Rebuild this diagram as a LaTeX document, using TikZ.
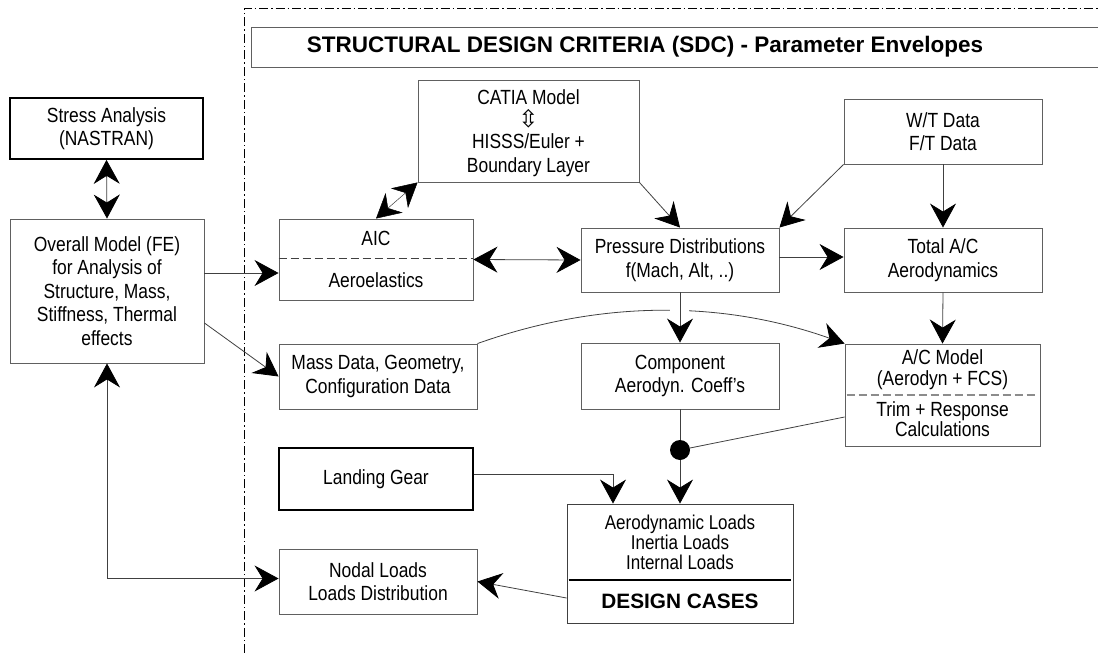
\documentclass[tikz,border=0pt]{standalone}
\usepackage{fontspec}
\setmainfont{Liberation Sans}[FakeStretch=0.85]
\newfontfamily\titlefont{Liberation Sans}
\newfontfamily\symfont{DejaVu Sans}
\usetikzlibrary{arrows.meta,calc}
\definecolor{bordgray}{HTML}{606060}
\definecolor{linegray}{HTML}{404040}
\tikzset{
  box/.style={draw=bordgray, line width=0.9pt, rectangle, inner sep=0pt, align=center,
    font=\fontsize{20.5}{23.5}\selectfont},
  thickbox/.style={box, draw=black, line width=1.7pt},
  txt/.style={inner sep=0pt, align=center, font=\fontsize{20.5}{23.5}\selectfont},
  conn/.style={draw=linegray, line width=0.8pt},
  arr/.style={conn, -{Stealth[length=24pt,width=26pt,inset=8pt,black]}},
  darr/.style={conn, {Stealth[length=24pt,width=26pt,inset=8pt,black]}-{Stealth[length=24pt,width=26pt,inset=8pt,black]}},
  frame/.style={draw=black, line width=0.8pt, dash pattern=on 9pt off 3pt on 1.5pt off 3pt},
}
\begin{document}
\begin{tikzpicture}[x=1pt,y=-1pt]
\useasboundingbox (0,0) rectangle (1098,653);
% dash-dot frame
\coordinate (fb) at (244,653);
\coordinate (fc) at (244,8);
\coordinate (fr) at (1098,8);
\draw[frame] (fb) -- (fc) -- (fr);
% title
\node[box, minimum width=849pt, minimum height=40pt] (titlebox) at (675.5,47) {};
\node[inner sep=0pt, font=\titlefont\bfseries\fontsize{22.5}{24}\selectfont] (title) at (645,47) {STRUCTURAL DESIGN CRITERIA (SDC) - Parameter Envelopes};
% boxes
\node[thickbox, minimum width=193pt, minimum height=61pt] (stress) at (106.5,128.5) {Stress Analysis\\(NASTRAN)};
\node[box, minimum width=194pt, minimum height=144pt] (overall) at (107,291) {Overall Model (FE)\\for Analysis of\\Structure, Mass,\\Stiffness, Thermal\\effects};
\node[box, minimum width=221pt, minimum height=102pt] (catia) at (528.5,131) {};
\node[txt] (catiaA) at (528.5,97) {CATIA Model};
\node[inner sep=0pt, font=\symfont\fontsize{24}{24}\selectfont] (catiaS) at (528.5,119) {⇳};
\node[txt] (catiaB) at (528.5,155) {HISSS/Euler +\\Boundary Layer};
\node[box, minimum width=198pt, minimum height=65pt] (wt) at (943,131.5) {W/T Data\\F/T Data};
\node[box, minimum width=194pt, minimum height=81pt] (aic) at (376,259.5) {};
\node[txt] (aicT) at (376,238) {AIC};
\node[txt] (aicB) at (376,280) {Aeroelastics};
\draw[draw=linegray, line width=0.8pt, dash pattern=on 8pt off 4pt] (aic.west |- 0,258) -- (aic.east |- 0,258);
\node[box, minimum width=198pt, minimum height=64pt] (press) at (680,260) {Pressure Distributions\\f(Mach, Alt, ..)};
\node[box, minimum width=198pt, minimum height=64pt] (total) at (943,260) {Total A/C\\Aerodynamics};
\node[box, minimum width=198pt, minimum height=65pt] (mass) at (378,376.5) {Mass Data, Geometry,\\Configuration Data};
\node[box, minimum width=198pt, minimum height=66pt] (comp) at (680,376) {Component\\Aerodyn. Coeff's};
\node[box, minimum width=195pt, minimum height=102pt] (acm) at (942.5,395) {};
\node[txt, font=\fontsize{20.5}{21}\selectfont] (acmT) at (942.5,370) {A/C Model\\(Aerodyn + FCS)};
\node[txt, font=\fontsize{20.5}{20.5}\selectfont] (acmB) at (942.5,419) {Trim + Response\\Calculations};
\draw[draw=black!45, line width=1.2pt, dash pattern=on 8pt off 4pt] ([xshift=2pt]acm.west |- 0,395) -- ([xshift=-2pt]acm.east |- 0,395);
\node[thickbox, minimum width=194pt, minimum height=62pt] (lg) at (376,479) {Landing Gear};
\node[box, draw=linegray, minimum width=226pt, minimum height=119pt] (dc) at (680,563.5) {};
\node[txt, font=\fontsize{20}{20}\selectfont] (dcT) at (680,542) {Aerodynamic Loads\\Inertia Loads\\Internal Loads};
\node[inner sep=0pt, font=\titlefont\bfseries\fontsize{20.8}{22}\selectfont] (dcB) at (680,601) {DESIGN CASES};
\draw[draw=black, line width=1.3pt] ([xshift=2pt]dc.west |- 0,580) -- ([xshift=-2pt]dc.east |- 0,580);
\node[box, minimum width=198pt, minimum height=65pt] (nodal) at (378,581.5) {Nodal Loads\\Loads Distribution};
\node[circle, fill=black, minimum size=20pt, inner sep=0pt] (dot) at (680,450) {};
% curve mass -> acm with a gap
\draw[arr] (mass.north east) .. controls (600,300) and (722,300) .. (acm.north west);
\fill[white] (670,302) rectangle (689,320);
% connectors
\draw[darr] (stress.south) -- (overall.north);
\draw[arr] ([yshift=18pt]overall.east) -- ([yshift=18pt]overall.east -| aic.west);
\draw[arr] ([yshift=-32pt]overall.east) -- (mass.west);
\draw[darr] (overall.south) |- ([yshift=3pt]nodal.west);
\draw[darr, line width=0.5pt] (aic.north) -- (catia.south west);
\draw[darr] (aic.east) -- (press.west);
\draw[arr] (catia.south east) -- (press.north);
\draw[arr] (wt.south west) -- (press.north east);
\draw[arr] (wt.south) -- (total.north);
\draw[arr] ([yshift=3pt]press.east) -- ([yshift=3pt]total.west);
\draw[arr] (press.south) -- (comp.north);
\draw[arr] (total.south) -- (acm.north);
\draw[conn] (comp.south) -- (dot);
\draw[arr] (dot) -- (dc.north);
\draw[conn] ([yshift=-22pt]acm.west) -- (dot);
\draw[arr] ([yshift=5pt]lg.east) -| ([xshift=-67pt]dc.north);
\draw[arr] ([yshift=-34.5pt]dc.west) -- (nodal.east);
\end{tikzpicture}
\end{document}
